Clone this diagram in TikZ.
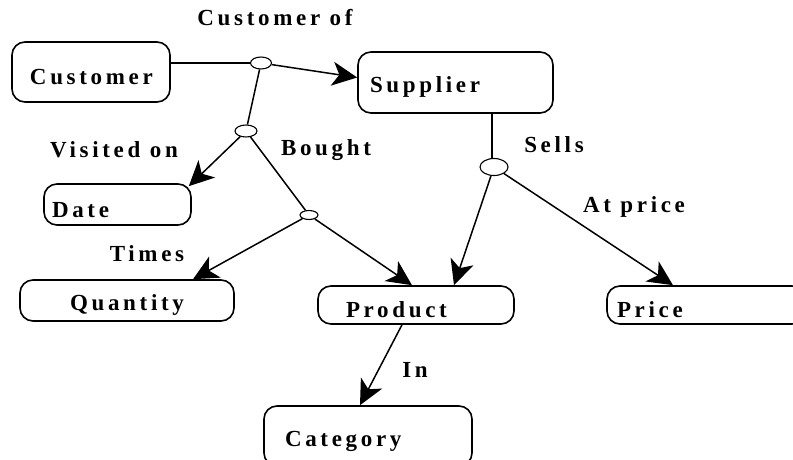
\documentclass[tikz,border=0pt]{standalone}
\usepackage{fontspec}
\usepackage{tikz}
\usetikzlibrary{shapes, arrows.meta, positioning}
\newfontfamily\erfont[LetterSpace=16]{Liberation Serif}

\begin{document}
\begin{tikzpicture}[x=1pt, y=-1pt, >={Stealth[length=25pt, width=24pt, inset=7pt]},
    entity/.style={draw, line width=1.6pt, rounded corners=13pt, align=left,
        font=\erfont\bfseries\fontsize{23}{26}\selectfont, inner ysep=0pt,
        execute at begin node={\rule{0pt}{1.1em}}},
    junction/.style={draw, ellipse, line width=1.1pt, inner sep=0pt, fill=white},
    rel/.style={font=\erfont\bfseries\fontsize{23}{26}\selectfont, inner sep=0pt},
    link/.style={line width=1.5pt}]
        \clip (0,0) rectangle (793,460);

        % Entities
        \node[entity, text width=122pt, inner xsep=18pt, minimum height=60pt] (cust) at (91,72) {Customer};
        \node[entity, text width=171pt, inner xsep=12pt, minimum height=61pt] (supp) at (455.5,82.5) {Supplier};
        \node[entity, text width=131pt, inner xsep=8pt, minimum height=41pt] (dat) at (117.5,204.5) {Date};
        \node[entity, text width=194pt, inner xsep=10pt, minimum height=41pt, align=center] (quan) at (127,300.5) {Quantity};
        \node[entity, text width=140pt, inner xsep=28pt, minimum height=38pt] (prod) at (416,305) {Product};
        \node[entity, text width=178pt, inner xsep=10pt, minimum height=38pt] (price) at (706,305) {Price};
        \node[entity, text width=166pt, inner xsep=21pt, minimum height=60pt] (cat) at (368,436) {Category};

        % Relationship points
        \node[junction, minimum width=21pt, minimum height=12pt] (j1) at (261,63) {};
        \node[junction, minimum width=22pt, minimum height=12pt] (j2) at (246,131) {};
        \node[junction, minimum width=18pt, minimum height=9pt] (j3) at (309,215) {};
        \node[junction, minimum width=28pt, minimum height=17pt] (j4) at (494,167) {};

        % Relationship names
        \node[rel] (lcustof) at (275,18) {Customer of};
        \node[rel] (lvisit) at (114,150) {Visited on};
        \node[rel] (lbought) at (326,150) {Bought};
        \node[rel] (lsells) at (554,145) {Sells};
        \node[rel] (latprice) at (634,207) {At price};
        \node[rel] (ltimes) at (147,254) {Times};
        \node[rel] (lin) at (415,370) {In};

        % Connectors
        \draw[link] (cust.east |- j1.west) -- (j1.west);
        \draw[link, ->] (j1) -- ([yshift=5pt]supp.west);
        \draw[link] (j1) -- (j2);
        \draw[link, ->] (j2) -- ([xshift=-3pt, yshift=-3pt]dat.north east);
        \draw[link] (j2) -- (j3);
        \draw[link, ->] (j3) -- ([xshift=66pt]quan.north);
        \draw[link, ->] (j3) -- ([xshift=-4pt]prod.north);
        \draw[link] (j4.north -| 492,0) -- (supp.south -| 492,0);
        \draw[link, ->] (j4) -- ([xshift=38pt]prod.north);
        \draw[link, ->] (j4) -- ([xshift=-33pt]price.north);
        \draw[link, ->] ([xshift=-14pt]prod.south) -- ([xshift=-8pt]cat.north);
    \end{tikzpicture}
\end{document}
